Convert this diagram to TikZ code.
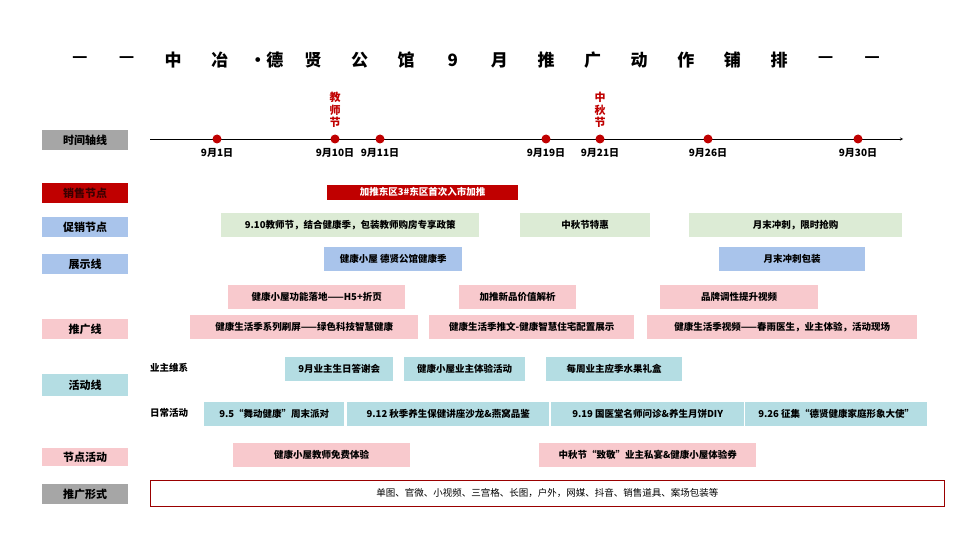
\documentclass[tikz,border=0pt]{standalone}
\usepackage{fontspec}
\newfontfamily\cjk{Noto Sans CJK SC}
\usetikzlibrary{positioning, arrows}
\definecolor{tagGrey}{HTML}{A6A6A6}
\definecolor{tagRed}{HTML}{C00000}
\definecolor{tagGreen}{HTML}{DCEBD5}
\definecolor{tagBlue}{HTML}{A9C4EB}
\definecolor{tagPink}{HTML}{F8C9CD}
\definecolor{tagTeal}{HTML}{B4DDE3}
\tikzstyle{arrow} = [thick,->,>=stealth]
\tikzset{
  tag/.style={minimum width=86pt, minimum height=20pt, inner sep=0pt, font=\cjk\bfseries\fontsize{11}{11}\selectfont},
  bar/.style={anchor=west, minimum height=24pt, inner sep=0pt, font=\cjk\bfseries\fontsize{9.5}{10}\selectfont},
  dot/.style={circle, fill=tagRed, minimum size=9pt, inner sep=0pt},
  day/.style={font=\cjk\bfseries\fontsize{10}{10}\selectfont, below=6pt},
}
\newcommand{\barbox}[6]{% name, x1, x2, y, colour, text
  \node[bar, fill=#5, minimum width=#3pt-#2pt] (#1) at (#2,#4) {#6};}
\begin{document}
\begin{tikzpicture}[x=1pt, y=-1pt]
  \useasboundingbox[fill=white] (0,0) rectangle (960,540);
  % title
  \foreach \t [count=\i from 0] in {—,—,中,冶,·德,贤,公,馆,9,月,推,广,动,作,铺,排,—,—}
    \node[font=\cjk\bfseries\fontsize{17}{17}\selectfont] (title\i) at (80+46.6*\i,60) {\t};
  % left tags
  \node[tag, fill=tagGrey] (tTime) at (85,140) {时间轴线};
  \node[tag, fill=tagRed, text=black!70!tagRed] (tSale) at (85,193) {销售节点};
  \node[tag, fill=tagBlue] (tPromo) at (85,227) {促销节点};
  \node[tag, fill=tagBlue] (tShow) at (85,264) {展示线};
  \node[tag, fill=tagPink] (tSpread) at (85,329) {推广线};
  \node[tag, fill=tagTeal, minimum height=22pt] (tAct) at (85,385) {活动线};
  \node[tag, fill=tagPink, minimum height=18pt] (tNode) at (85,457) {节点活动};
  \node[tag, fill=tagGrey] (tForm) at (85,494) {推广形式};
  % timeline
  \coordinate (axisL) at (150,139);
  \coordinate (axisR) at (903,139);
  \draw[arrow, thin] (axisL) -- (axisR);
  \foreach \x/\d in {217/1, 335/10, 380/11, 546/19, 600/21, 708/26, 858/30} {
    \node[dot] (d\d) at (\x,139) {};
    \node[day] (l\d) at (d\d) {9月\d 日};
  }
  \node[font=\cjk\bfseries\fontsize{11}{12.5}\selectfont, text=tagRed, align=center, above=3pt of d10] (fest1) {教\\师\\节};
  \node[font=\cjk\bfseries\fontsize{11}{12.5}\selectfont, text=tagRed, align=center, above=3pt of d21] (fest2) {中\\秋\\节};
  % rows
  \node[bar, fill=tagRed, text=white, minimum width=191pt, minimum height=15pt] (sale1) at (327,192) {加推东区3\#东区首次入市加推};
  \barbox{promo1}{221}{479}{225}{tagGreen}{9.10教师节，结合健康季，包装教师购房专享政策}
  \barbox{promo2}{520}{650}{225}{tagGreen}{中秋节特惠}
  \barbox{promo3}{689}{902}{225}{tagGreen}{月末冲刺，限时抢购}
  \barbox{show1}{324}{462}{259}{tagBlue}{健康小屋 德贤公馆健康季}
  \barbox{show2}{719}{865}{259}{tagBlue}{月末冲刺包装}
  \barbox{sp1}{228}{405}{297}{tagPink}{健康小屋功能落地——H5+折页}
  \barbox{sp2}{459}{576}{297}{tagPink}{加推新品价值解析}
  \barbox{sp3}{660}{818}{297}{tagPink}{品牌调性提升视频}
  \barbox{sp4}{190}{418}{327}{tagPink}{健康生活季系列刷屏——绿色科技智慧健康}
  \barbox{sp5}{429}{634}{327}{tagPink}{健康生活季推文-健康智慧住宅配置展示}
  \barbox{sp6}{647}{917}{327}{tagPink}{健康生活季视频——春雨医生，业主体验，活动现场}
  \node[font=\cjk\bfseries\fontsize{9.5}{10}\selectfont] (owner) at (169,368) {业主维系};
  \barbox{ow1}{285}{393}{369}{tagTeal}{9月业主生日答谢会}
  \barbox{ow2}{404}{525}{369}{tagTeal}{健康小屋业主体验活动}
  \barbox{ow3}{546}{682}{369}{tagTeal}{每周业主应季水果礼盒}
  \node[font=\cjk\bfseries\fontsize{9.5}{10}\selectfont] (daily) at (169,413) {日常活动};
  \barbox{dy1}{204}{344}{414}{tagTeal}{9.5“舞动健康”周末派对}
  \barbox{dy2}{347}{549}{414}{tagTeal}{9.12 秋季养生保健讲座沙龙\&燕窝品鉴}
  \barbox{dy3}{551}{744}{414}{tagTeal}{9.19 国医堂名师问诊\&养生月饼DIY}
  \barbox{dy4}{745}{927}{414}{tagTeal}{9.26 征集“德贤健康家庭形象大使”}
  \barbox{nd1}{233}{410}{455}{tagPink}{健康小屋教师免费体验}
  \barbox{nd2}{539}{756}{455}{tagPink}{中秋节“致敬”业主私宴\&健康小屋体验券}
  \node[draw=tagRed!80!black, thick, anchor=west, minimum width=794pt, minimum height=26pt, inner sep=0pt,
    font=\cjk\fontsize{9.5}{10}\selectfont] (form) at (150,493) {单图、官微、小视频、三宫格、长图，户外，网媒、抖音、销售道具、案场包装等};
\end{tikzpicture}
\end{document}
